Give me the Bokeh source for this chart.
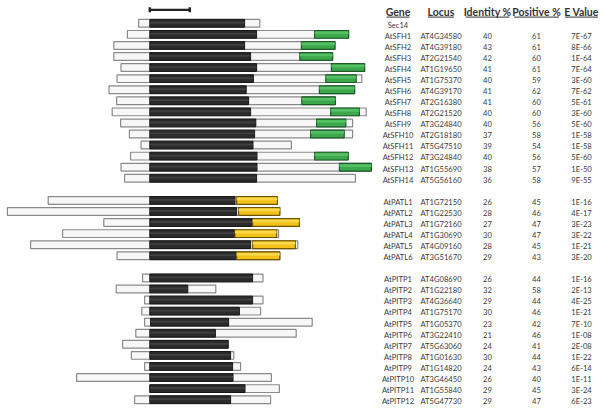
from bokeh.plotting import figure
from bokeh.models import Range1d, ColumnDataSource
from bokeh.core.properties import value
from bokeh.embed import file_html
from bokeh.resources import INLINE

# ---------------- data (positions in amino acids, Sec14 domain start = 0) -------------
sfh_genes = ["Sec14", "AtSFH1", "AtSFH2", "AtSFH3", "AtSFH4", "AtSFH5", "AtSFH6", "AtSFH7",
             "AtSFH8", "AtSFH9", "AtSFH10", "AtSFH11", "AtSFH12", "AtSFH13", "AtSFH14"]
sfh_locus = ["", "AT4G34580", "AT4G39180", "AT2G21540", "AT1G19650", "AT1G75370", "AT4G39170",
             "AT2G16380", "AT2G21520", "AT3G24840", "AT2G18180", "AT5G47510", "AT3G24840",
             "AT1G55690", "AT5G56160"]
sfh_ident = ["", "40", "43", "42", "41", "40", "41", "41", "40", "40", "37", "39", "40", "38", "36"]
sfh_pos = ["", "61", "61", "60", "61", "59", "62", "60", "60", "56", "58", "54", "56", "57", "58"]
sfh_eval = ["", "7E-67", "8E-66", "1E-64", "7E-64", "3E-60", "7E-62", "5E-61", "3E-60", "5E-60",
            "1E-58", "1E-58", "5E-60", "1E-50", "9E-55"]
sfh_start = [-28, -56, -90, -90, -72, -82, -102, -83, -94, -73, -51, -22, -48, -72, -63]
sfh_sec14_start = [0] * 15
sfh_sec14_end = [237, 267, 237, 252, 267, 259, 241, 247, 252, 265, 262, 258, 268, 268, 267]
sfh_linker_end = [275, 412, 379, 375, 454, 440, 424, 380, 452, 417, 402, 354, 412, 474, 514]
sfh_nodulin_end = [275, 497, 463, 457, 537, 516, 512, 464, 524, 490, 486, 354, 496, 554, 514]
sfh_tail_end = [275, 497, 463, 457, 537, 530, 512, 464, 541, 507, 507, 354, 496, 554, 514]

patl_genes = ["AtPATL1", "AtPATL2", "AtPATL3", "AtPATL4", "AtPATL5", "AtPATL6"]
patl_locus = ["AT1G72150", "AT1G22530", "AT1G72160", "AT1G30690", "AT4G09160", "AT3G51670"]
patl_ident = ["26", "28", "27", "30", "28", "29"]
patl_pos = ["45", "46", "47", "47", "45", "43"]
patl_eval = ["1E-16", "4E-17", "3E-23", "3E-22", "1E-21", "3E-20"]
patl_start = [-254, -356, -115, -218, -298, -82]
patl_sec14_start = [0] * 6
patl_sec14_end = [213, 217, 257, 213, 252, 217]
patl_linker_end = [217, 222, 257, 213, 257, 217]
patl_gold_end = [319, 325, 374, 317, 364, 325]
patl_tail_end = [319, 325, 374, 322, 370, 325]

pitp_genes = ["AtPITP1", "AtPITP2", "AtPITP3", "AtPITP4", "AtPITP5", "AtPITP6", "AtPITP7",
              "AtPITP8", "AtPITP9", "AtPITP10", "AtPITP11", "AtPITP12"]
pitp_locus = ["AT4G08690", "AT1G22180", "AT4G36640", "AT1G75170", "AT1G05370", "AT3G22410",
              "AT5G63060", "AT1G01630", "AT1G14820", "AT3G46450", "AT1G55840", "AT5G47730"]
pitp_ident = ["26", "32", "29", "30", "23", "21", "24", "30", "24", "26", "29", "29"]
pitp_pos = ["44", "58", "44", "46", "42", "46", "41", "44", "43", "40", "45", "47"]
pitp_eval = ["1E-16", "2E-13", "4E-25", "1E-21", "7E-10", "1E-08", "2E-08", "1E-22", "6E-14",
             "1E-11", "3E-24", "6E-23"]
pitp_start = [-18, -84, -13, -20, -13, -35, -68, -46, -13, -183, 0, -38]
pitp_sec14_start = [0, 0, 0, 0, 2, 0, 0, 0, 0, 0, 0, 0]
pitp_sec14_end = [257, 95, 257, 224, 197, 164, 196, 202, 207, 208, 238, 202]
pitp_tail_end = [283, 165, 283, 277, 406, 366, 196, 210, 227, 304, 324, 302]

headers = ["Gene", "Locus", "Identity %", "Positive %", "E Value"]
scale_bar_aa = [0, 100]

# ---------------- layout -------------------------------------------------------------
PX = 2.5            # aa per screen pixel
X0 = 149.3          # screen x of Sec14 domain start
ROW = 11.07         # pixels per row
Y0 = 22.8           # screen y of first row
W, H = 604, 411


def ax(px):
    return (px - X0) * PX


def ay(py):
    return (py - Y0) / ROW


HH = 0.35
sfh_rows = list(range(0, 15))
patl_rows = list(range(16, 22))
pitp_rows = list(range(23, 35))

white, black, green, gold = ([], [], [], [])


def add(lst, l, r, row):
    if r > l:
        lst.append((l, r, row))


for i, row in enumerate(sfh_rows):
    add(white, sfh_start[i], sfh_tail_end[i], row)
    add(black, sfh_sec14_start[i], sfh_sec14_end[i], row)
    add(green, sfh_linker_end[i], sfh_nodulin_end[i], row)
for i, row in enumerate(patl_rows):
    add(white, patl_start[i], patl_tail_end[i], row)
    add(black, patl_sec14_start[i], patl_sec14_end[i], row)
    add(gold, patl_linker_end[i], patl_gold_end[i], row)
for i, row in enumerate(pitp_rows):
    add(white, pitp_start[i], pitp_tail_end[i], row)
    add(black, pitp_sec14_start[i], pitp_sec14_end[i], row)


def src(lst, h=HH, off=0.0):
    return ColumnDataSource(dict(
        left=[s[0] for s in lst], right=[s[1] for s in lst],
        top=[s[2] - h + off for s in lst], bottom=[s[2] + h + off for s in lst]))


p = figure(width=W, height=H, output_backend="svg", toolbar_location=None,
           x_range=Range1d(ax(0), ax(W)), y_range=Range1d(ay(H), ay(0)),
           min_border=0, outline_line_color=None)
p.xaxis.visible = False
p.yaxis.visible = False
p.grid.visible = False
p.background_fill_color = "white"
p.border_fill_color = "white"

p.quad(source=src(white), left="left", right="right", top="top", bottom="bottom",
       fill_color="#f7f7f7", line_color="#8a8a8a", line_width=1.2)
p.quad(source=src(black), left="left", right="right", top="top", bottom="bottom",
       fill_color="#2b2b2b", line_color="#161616", line_width=1)
p.quad(source=src(black, 0.08, -0.05), left="left", right="right", top="top", bottom="bottom",
       fill_color="#404040", line_color=None)
p.quad(source=src(green), left="left", right="right", top="top", bottom="bottom",
       fill_color="#3aa84b", line_color="#1c5a28", line_width=1.2)
p.quad(source=src(green, 0.12, -0.14), left="left", right="right", top="top", bottom="bottom",
       fill_color="#55bf64", line_color=None)
p.quad(source=src(gold), left="left", right="right", top="top", bottom="bottom",
       fill_color="#f2c21a", line_color="#6e5500", line_width=1.2)
p.quad(source=src(gold, 0.12, -0.14), left="left", right="right", top="top", bottom="bottom",
       fill_color="#f9d84a", line_color=None)

# scale bar
sb_y = ay(9.3)
p.segment(x0=[scale_bar_aa[0]], x1=[scale_bar_aa[1]], y0=[sb_y], y1=[sb_y],
          line_color="#222222", line_width=2.2)
p.segment(x0=scale_bar_aa, x1=scale_bar_aa, y0=[sb_y - 0.23] * 2, y1=[sb_y + 0.23] * 2,
          line_color="#222222", line_width=2.5)

# table
col_px = [397.5, 440.5, 487, 536, 581]
col_x = [ax(c) for c in col_px]
hdr_y = ay(11.6)
p.text(x=col_x, y=[hdr_y] * 5, text=headers, text_font=value("Lato"),
       text_font_style="bold", text_font_size="10.5px", text_color="#333333",
       text_align="center", text_baseline="middle")
hdr_w = [23, 26, 44, 45, 33]
ul_y = ay(16.6)
p.segment(x0=[c - w * PX / 2 for c, w in zip(col_x, hdr_w)],
          x1=[c + w * PX / 2 for c, w in zip(col_x, hdr_w)],
          y0=[ul_y] * 5, y1=[ul_y] * 5, line_color="#333333", line_width=1)

genes = sfh_genes + patl_genes + pitp_genes
loci = sfh_locus + patl_locus + pitp_locus
idents = sfh_ident + patl_ident + pitp_ident
poss = sfh_pos + patl_pos + pitp_pos
evals = sfh_eval + patl_eval + pitp_eval
rows = sfh_rows + patl_rows + pitp_rows
ty = [r + 0.12 for r in rows]
for cx, col in zip(col_x, [genes, loci, idents, poss, evals]):
    p.text(x=[cx] * len(col), y=ty, text=col, text_font=value("Lato"),
           text_font_size="7.6px", text_color="#3a3a3a",
           text_align="center", text_baseline="middle")

open("out.html", "w").write(file_html(p, INLINE))
